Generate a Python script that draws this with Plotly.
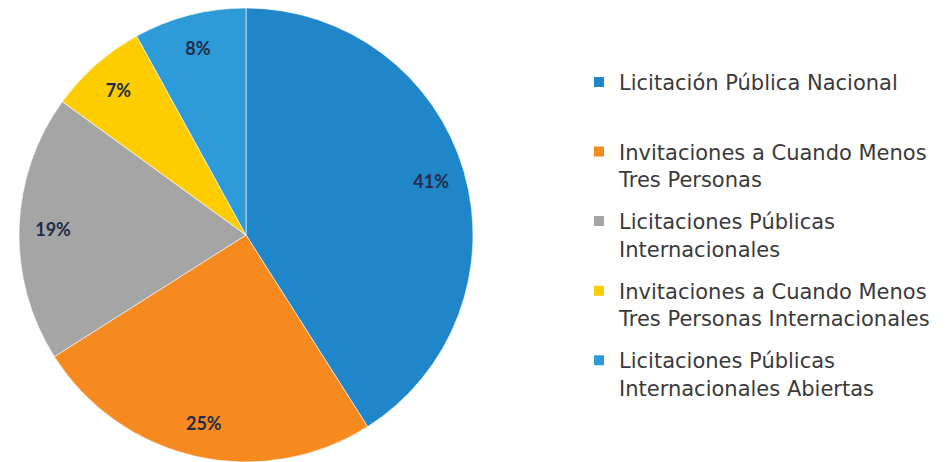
import plotly.graph_objects as go

# categories and shares (percent)
categories = [
    "Licitación Pública Nacional",
    "Invitaciones a Cuando Menos Tres Personas",
    "Licitaciones Públicas Internacionales",
    "Invitaciones a Cuando Menos Tres Personas Internacionales",
    "Licitaciones Públicas Internacionales Abiertas",
]
legend_text = [
    "Licitación Pública Nacional<br> ",
    "Invitaciones a Cuando Menos<br>Tres Personas",
    "Licitaciones Públicas<br>Internacionales",
    "Invitaciones a Cuando Menos<br>Tres Personas Internacionales",
    "Licitaciones Públicas<br>Internacionales Abiertas",
]
shares = [41, 25, 19, 7, 8]
colors = ["#1F86C9", "#F68A1E", "#A5A5A5", "#FDCD00", "#2C9BD7"]

# the page body adds 8px margin, domains compensate for it
dom_x = [11 / 949, 465 / 949]
dom_y = [8 / 462, 1]

fig = go.Figure()

fig.add_trace(go.Pie(
    labels=categories, values=shares, sort=False, direction="clockwise", rotation=0,
    marker=dict(colors=colors, line=dict(color="white", width=0.6)),
    textinfo="none", domain=dict(x=dom_x, y=dom_y), showlegend=False,
    hoverinfo="label+percent",
))

# transparent ring so the percent labels sit near the rim
fig.add_trace(go.Pie(
    labels=categories, values=shares, sort=False, direction="clockwise", rotation=0,
    hole=0.7, marker=dict(colors=["rgba(0,0,0,0)"] * 5, line=dict(width=0)),
    texttemplate="%{value}%", textposition="inside",
    insidetextorientation="horizontal",
    textfont=dict(family="Lato", size=18, color="#1F2B48", weight="bold"),
    domain=dict(x=dom_x, y=dom_y), showlegend=False, hoverinfo="skip",
))

# legend entries, one group each so the gap between them can be set
for i, (name, col) in enumerate(zip(legend_text, colors)):
    fig.add_trace(go.Scatter(
        x=[None], y=[None], mode="markers", name=name,
        marker=dict(symbol="square", size=10, color=col),
        legendgroup=str(i), showlegend=True, hoverinfo="skip",
    ))

fig.update_layout(
    width=949, height=462,
    margin=dict(l=0, r=0, t=0, b=0),
    paper_bgcolor="white", plot_bgcolor="white",
    xaxis=dict(visible=False), yaxis=dict(visible=False),
    font=dict(family="DejaVu Sans", color="#3A3A3A"),
    legend=dict(
        x=0.6017, y=0.8837, xanchor="left", yanchor="top",
        font=dict(family="DejaVu Sans", size=21, color="#3A3A3A"),
        valign="top", itemwidth=30, tracegroupgap=12,
    ),
)

fig.write_html("out.html")
